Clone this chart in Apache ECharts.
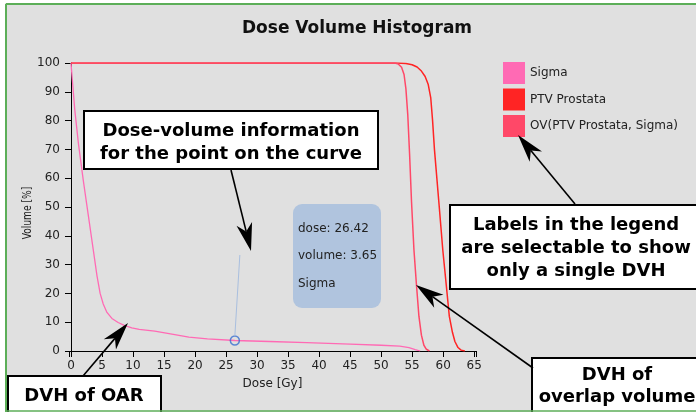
<!DOCTYPE html>
<html><head><meta charset="utf-8">
<script src="https://cdn.jsdelivr.net/npm/echarts@6/dist/echarts.min.js"></script>
<style>html,body{margin:0;padding:0;background:#fff;}#c{width:696px;height:412px;}</style>
</head><body><div id="c"></div>
<script>
const FONT = 'DejaVu Sans';
const chartTitle = 'Dose Volume Histogram';
const xAxisName = 'Dose [Gy]';
const yAxisName = 'Volume [%]';
const seriesNames = ['Sigma', 'PTV Prostata', 'OV(PTV Prostata, Sigma)'];
const seriesColors = ['#ff6ab4', '#ff2424', '#ff4868'];

const sigmaDose   = [0, 0.6, 1.2, 2.0, 2.8, 3.6, 4.2, 4.7, 5.2, 5.8, 6.6, 7.6, 8.6, 9.8, 11, 13.5, 16.5, 19, 22, 26.42, 32, 38, 45, 50, 53, 54.5, 55.5, 56.3];
const sigmaVolume = [100, 84, 72, 59, 47, 35, 26, 20, 16.3, 13.4, 11.3, 9.9, 8.9, 8.0, 7.5, 6.9, 5.8, 4.8, 4.2, 3.65, 3.3, 2.9, 2.4, 2.0, 1.7, 1.2, 0.5, 0];

const ptvDose   = [0, 52.5, 54, 55, 55.8, 56.5, 57.1, 57.6, 58.0, 58.3, 58.6, 59.3, 59.95, 60.5, 61, 61.5, 61.9, 62.4, 62.9, 63.5];
const ptvVolume = [100, 100, 99.8, 99.4, 98.6, 97.2, 95.3, 92.5, 88, 80, 70, 52, 35, 23, 12, 6.5, 3.3, 1.2, 0.3, 0];

const ovDose   = [0, 52.2, 52.8, 53.3, 53.7, 54.0, 54.3, 54.6, 54.9, 55.3, 55.7, 56.1, 56.5, 56.9, 57.3, 57.8];
const ovVolume = [100, 100, 99.6, 98.5, 96, 91, 82, 68, 52, 35, 23, 12, 5.5, 2, 0.6, 0];

const xTickLabels = [0, 5, 10, 15, 20, 25, 30, 35, 40, 45, 50, 55, 60, 65];
const xOuterEnds = [-0.32, 65.3];
const yTickLabels = [0, 10, 20, 30, 40, 50, 60, 70, 80, 90, 100];

const pointDose = 26.42;
const pointVolume = 3.65;
const pointSeries = 'Sigma';

const zip = (a, b) => a.map((v, i) => [v, b[i]]);
const seriesData = [zip(sigmaDose, sigmaVolume), zip(ptvDose, ptvVolume), zip(ovDose, ovVolume)];

function arrow(x1, y1, x2, y2) {
  const dx = x2 - x1, dy = y2 - y1, len = Math.hypot(dx, dy);
  const ux = dx / len, uy = dy / len, nx = -uy, ny = ux;
  const L = 28, W = 8;
  const bx = x2 - ux * L, by = y2 - uy * L;
  const kx = x2 - ux * L * 0.72, ky = y2 - uy * L * 0.72;
  return [
    {type: 'line', z: 100, silent: true, shape: {x1: x1, y1: y1, x2: kx, y2: ky}, style: {stroke: '#000', lineWidth: 1.6}},
    {type: 'polygon', z: 100, silent: true, shape: {points: [[x2, y2], [bx + nx * W, by + ny * W], [kx, ky], [bx - nx * W, by - ny * W]]}, style: {fill: '#000'}}
  ];
}
function box(x, y, w, h, text, cx, cy, lh) {
  return [
    {type: 'rect', z: 100, silent: true, shape: {x: x, y: y, width: w, height: h}, style: {fill: '#fff', stroke: '#000', lineWidth: 2}},
    {type: 'text', z: 101, silent: true, style: {text: text, x: cx, y: cy, align: 'center', verticalAlign: 'middle', fontFamily: FONT, fontWeight: 'bold', fontSize: 18, lineHeight: lh, fill: '#000'}}
  ];
}

const elements = [
  {type: 'rect', silent: true, shape: {x: 0, y: 0, width: 696, height: 3}, style: {fill: '#fff'}},
  {type: 'rect', silent: true, shape: {x: 0, y: 0, width: 5, height: 412}, style: {fill: '#fff'}},
  {type: 'line', silent: true, z: 120, shape: {x1: 6, y1: 4, x2: 696, y2: 4}, style: {stroke: '#5cae58', lineWidth: 2}},
  {type: 'line', silent: true, z: 120, shape: {x1: 6, y1: 4, x2: 6, y2: 412}, style: {stroke: '#5cae58', lineWidth: 2}},
  {type: 'line', silent: true, z: 120, shape: {x1: 6, y1: 411, x2: 696, y2: 411}, style: {stroke: '#5cae58', lineWidth: 1.5}},
  // y axis title
  {type: 'text', silent: true, x: 28, y: 213, rotation: Math.PI / 2, scaleX: 0.76,
   style: {text: yAxisName, align: 'center', verticalAlign: 'middle', fontFamily: FONT, fontSize: 12, fill: '#222'}},
  {type: 'rect', z: 50, silent: true, shape: {x: 293, y: 204, width: 88, height: 104, r: 9}, style: {fill: '#b0c4de'}},
  {type: 'text', z: 51, silent: true, style: {text: 'dose: ' + pointDose.toFixed(2) + '\n\nvolume: ' + pointVolume.toFixed(2) + '\n\n' + pointSeries, x: 298, y: 256, verticalAlign: 'middle', fontFamily: FONT, fontSize: 12, lineHeight: 13.7, fill: '#222'}},
  ...box(84, 111, 294, 58, 'Dose-volume information\nfor the point on the curve', 231, 143, 23),
  ...arrow(231, 170, 251, 251),
  ...box(450, 205, 260, 84, 'Labels in the legend\nare selectable to show\nonly a single DVH', 576, 248, 23),
  ...arrow(575, 204, 518, 135),
  ...box(8, 376, 153, 44, 'DVH of OAR', 84, 396, 22),
  ...arrow(83, 376, 128, 323),
  ...box(532, 358, 180, 60, 'DVH of\noverlap volume', 617, 386, 22),
  ...arrow(533, 368, 416, 285)
];

const axisText = {color: '#222', fontSize: 12, fontFamily: FONT};
const option = {
  animation: false,
  backgroundColor: '#e0e0e0',
  title: {text: chartTitle, left: 242, top: 20, padding: 0, textStyle: {fontFamily: FONT, fontSize: 17, fontWeight: 'bold', color: '#111'}},
  legend: {
    data: seriesNames.map(n => ({name: n, icon: 'rect'})),
    orient: 'vertical', left: 503, top: 62, padding: 0,
    itemWidth: 22, itemHeight: 22, itemGap: 4.5,
    textStyle: {fontSize: 12, color: '#222', fontFamily: FONT}
  },
  grid: {left: 69, right: 220, top: 63, bottom: 61, containLabel: false},
  xAxis: {
    type: 'value', min: xOuterEnds[0], max: xOuterEnds[1],
    name: xAxisName, nameLocation: 'middle', nameGap: 27, nameMoveOverlap: false, nameTextStyle: axisText,
    axisLine: {show: true, lineStyle: {color: '#000', width: 1}},
    axisTick: {show: true, length: 6, lineStyle: {color: '#000'}, customValues: [xOuterEnds[0]].concat(xTickLabels, [xOuterEnds[1]])},
    axisLabel: Object.assign({margin: 9, customValues: xTickLabels}, axisText),
    splitLine: {show: false}
  },
  yAxis: {
    type: 'value', min: 0, max: 100, interval: 10,
    axisLine: {show: true, lineStyle: {color: '#000', width: 1}},
    axisTick: {show: true, length: 6, lineStyle: {color: '#000'}, customValues: yTickLabels},
    axisLabel: Object.assign({margin: 9, customValues: yTickLabels}, axisText),
    splitLine: {show: false}
  },
  series: seriesNames.map((n, i) => ({
    name: n, type: 'line', data: seriesData[i], symbol: 'none', showSymbol: false,
    color: seriesColors[i], itemStyle: {color: seriesColors[i]},
    lineStyle: {color: seriesColors[i], width: i === 0 ? 1.3 : 1.5}, z: 2 + i
  })).concat([{
    name: 'point', type: 'scatter', data: [[pointDose, pointVolume]], symbol: 'circle', symbolSize: 9,
    itemStyle: {color: 'rgba(0,0,0,0)', borderColor: '#3a6fd0', borderWidth: 1.5}, z: 10
  }]),
  graphic: {elements: elements}
};

const chart = echarts.init(document.getElementById('c'), null, {renderer: 'canvas'});
chart.setOption(option);
const p = chart.convertToPixel({gridIndex: 0}, [pointDose, pointVolume]);
elements.push({type: 'line', z: 40, silent: true, shape: {x1: p[0], y1: p[1] - 4.5, x2: p[0] + 5, y2: 255}, style: {stroke: '#a9bfdf', lineWidth: 1}});
option.graphic = {elements: elements};
chart.setOption(option, true);
</script>
</body></html>
